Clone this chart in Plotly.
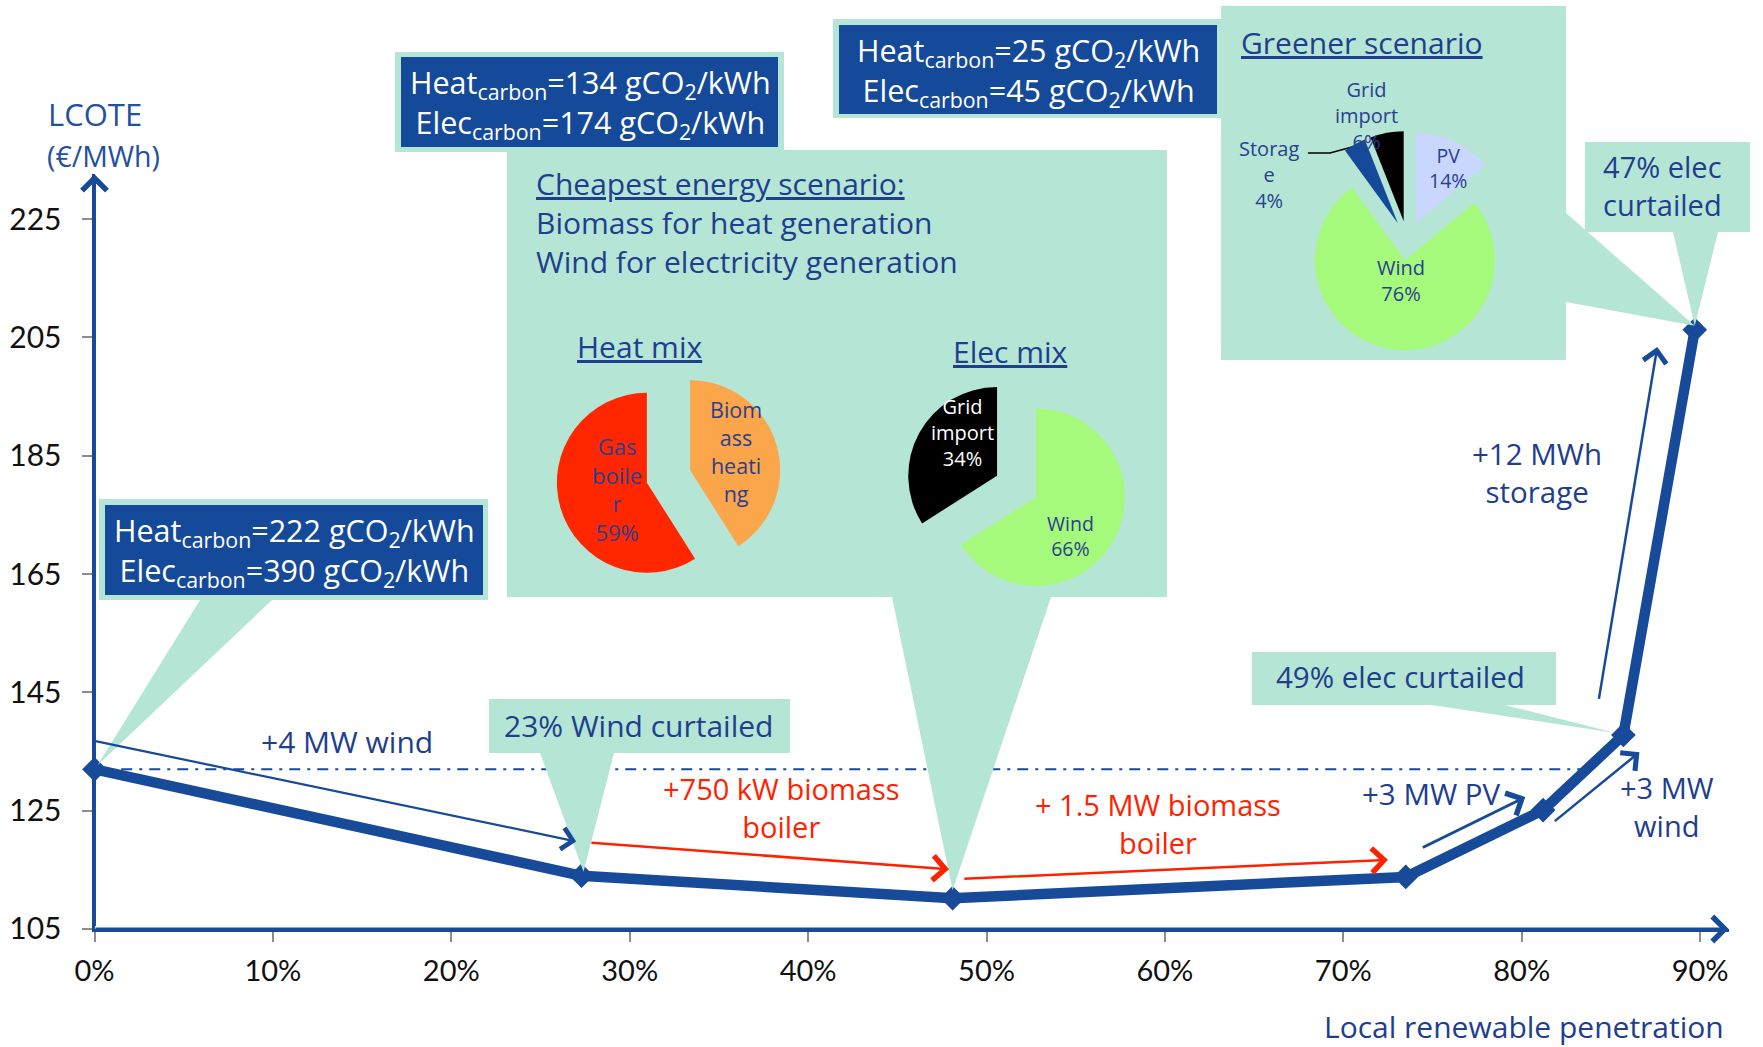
import plotly.graph_objects as go

# ---------------- data ----------------
penetration = [0.0, 27.3, 48.1, 73.5, 81.2, 85.7, 89.7]          # % local renewable
lcote = [132.0, 114.0, 110.2, 113.8, 125.1, 137.8, 206.3]         # EUR/MWh
x_ticks = [0, 10, 20, 30, 40, 50, 60, 70, 80, 90]
x_tick_text = [f"{v}%" for v in x_ticks]
y_ticks = [105, 125, 145, 165, 185, 205, 225]
reference_x = [1.5, 83.5]
reference_y = [132.0, 132.0]

# step arrows: tail x, tail y, head x, head y (data units)
arrow_wind4 = [0.0, 136.8, 27.0, 119.8]
arrow_bio750 = [27.8, 119.6, 47.9, 115.1]
arrow_bio15 = [48.7, 113.5, 72.5, 116.7]
arrow_pv3 = [74.4, 118.7, 80.2, 127.3]
arrow_wind3 = [81.8, 123.1, 86.6, 134.9]
arrow_storage = [84.3, 143.4, 87.6, 203.4]

heat_labels = ["Biomass heating", "Gas boiler"]
heat_values = [41, 59]
elec_labels = ["Wind", "Grid import"]
elec_values = [66, 34]
green_labels = ["PV", "Wind", "Storage", "Grid import"]
green_values = [14, 76, 4, 6]

# ---------------- style ----------------
W, H = 1763, 1047
FONT = "Open Sans"
TICKFONT = "Lato"
MINT = "#B5E5D5"
BOX = "#154A9A"
LINE = "#174A98"
TXT = "#213E8E"
RED = "#FF2200"

X_RANGE = [0, 91.6]
Y_RANGE = [105, 232.6]
X0, SX = 94.5, 17.84    # pixel of 0 %, px per %
Y0, SY = 929.0, 5.915   # pixel of 105, px per unit


def px(v):
    return X0 + v * SX


def py(v):
    return Y0 - (v - 105) * SY


fig = go.Figure()

# reference dash-dot line and main curve on the real axes
fig.add_trace(go.Scatter(x=reference_x, y=reference_y, mode="lines",
                         line=dict(color=LINE, width=2, dash="11px,7px,3px,7px"),
                         hoverinfo="skip", showlegend=False))
fig.add_trace(go.Scatter(x=penetration, y=lcote, mode="lines+markers",
                         line=dict(color=LINE, width=10.5),
                         marker=dict(symbol="diamond", size=19, color=LINE),
                         cliponaxis=False, showlegend=False))


# ---------------- callout panels (pixel overlay axes) ----------------
def panel(x0, y0, x1, y1, tail=None, side="bottom", color=MINT):
    xs, ys = [x0, x1], [y0, y0]
    if side == "right" and tail:
        (a, tip, b) = tail
        xs += [x1, tip[0], x1]
        ys += [a, tip[1], b]
    xs += [x1]
    ys += [y1]
    if side == "bottom" and tail:
        (a, tip, b) = tail
        xs += [b, tip[0], a]
        ys += [y1, tip[1], y1]
    xs += [x0, x0]
    ys += [y1, y0]
    fig.add_trace(go.Scatter(x=xs, y=ys, xaxis="x2", yaxis="y2", mode="lines",
                             fill="toself", fillcolor=color, line=dict(width=0),
                             hoverinfo="skip", showlegend=False))


p1 = (px(penetration[0]) + 3, py(lcote[0]) - 4)
p2 = (px(penetration[1]) + 2, py(lcote[1]) - 4)
p3 = (px(penetration[2]), py(lcote[2]) - 8)
p6 = (px(penetration[5]) - 8, py(lcote[5]) - 2)
p7 = (px(penetration[6]), py(lcote[6]) - 4)

panel(99, 499, 488, 600, tail=(200, p1, 272))
panel(105, 505, 483, 595, color=BOX)
panel(395, 52, 784, 152)
panel(401, 57, 778, 147, color=BOX)
panel(833, 19, 1221, 118)
panel(839, 25, 1217, 114, color=BOX)
panel(507, 150, 1167, 597, tail=(892, p3, 1051))
panel(1221, 6, 1566, 360, tail=(213, p7, 302), side="right")
panel(1585, 142, 1750, 232, tail=(1673, p7, 1718))
panel(489, 699, 790, 753, tail=(540, p2, 614))
panel(1252, 652, 1556, 705, tail=(1432, p6, 1505))

# storage leader line
fig.add_trace(go.Scatter(x=[1308, 1330, 1352], y=[153, 153, 147], xaxis="x2", yaxis="y2",
                         mode="lines", line=dict(color="black", width=1.5),
                         hoverinfo="skip", showlegend=False))


# ---------------- pies ----------------
def dom(cx, cy, half):
    return dict(x=[(cx - half) / W, (cx + half) / W],
                y=[1 - (cy + half) / H, 1 - (cy - half) / H])


fig.add_trace(go.Pie(labels=heat_labels, values=heat_values, sort=False,
                     direction="clockwise", rotation=0, pull=[0.25, 0.25],
                     marker=dict(colors=["#FBA64B", "#FF2600"], line=dict(width=0)),
                     textinfo="none", hoverinfo="skip", showlegend=False,
                     domain=dom(668.5, 476.5, 112.5)))
fig.add_trace(go.Pie(labels=elec_labels, values=elec_values, sort=False,
                     direction="clockwise", rotation=0, pull=[0.25, 0.25],
                     marker=dict(colors=["#A5F97B", "#000000"], line=dict(width=0)),
                     textinfo="none", hoverinfo="skip", showlegend=False,
                     domain=dom(1016.5, 486.5, 111)))
fig.add_trace(go.Pie(labels=green_labels, values=green_values, sort=False,
                     direction="clockwise", rotation=0, pull=[0.22] * 4,
                     marker=dict(colors=["#C9D6FE", "#A5F97B", BOX, "#000000"],
                                 line=dict(width=0)),
                     textinfo="none", hoverinfo="skip", showlegend=False,
                     domain=dom(1407.4, 240.6, 109.8)))

# ---------------- annotations ----------------
ann = []


def text(x, y, s, size=29.5, color=TXT, xanchor="center"):
    ann.append(dict(x=x, y=y, xref="x2", yref="y2", text=s, showarrow=False,
                    xanchor=xanchor, yanchor="middle",
                    align="left" if xanchor == "left" else "center",
                    font=dict(family=FONT, size=size, color=color)))


def arrow(a, color=LINE, width=2.5, size=1.8):
    ann.append(dict(x=a[2], y=a[3], ax=a[0], ay=a[1], xref="x", yref="y",
                    axref="x", ayref="y", text="\u00a0", showarrow=True, arrowhead=4,
                    arrowsize=size, arrowwidth=width, arrowcolor=color,
                    font=dict(size=4), borderpad=0))


# axis arrows
arrow([0, 105, 0, Y_RANGE[1]], color=LINE, width=3, size=1.6)
arrow([0, 105, X_RANGE[1], 105], color=LINE, width=3, size=1.6)

arrow(arrow_wind4, width=2.2, size=1.9)
arrow(arrow_bio750, color=RED, width=2.5, size=1.9)
arrow(arrow_bio15, color=RED, width=2.5, size=1.9)
arrow(arrow_pv3, width=3, size=1.6)
arrow(arrow_wind3, width=2.5, size=1.8)
arrow(arrow_storage, width=2.5, size=1.8)

text(95, 114, "LCOTE", size=31, color="#2450A0")
text(103, 156, "(€/MWh)", size=28.5, color="#2450A0")

cw = "white"
text(294, 551, "Heat<sub>carbon</sub>=222 gCO<sub>2</sub>/kWh<br>Elec<sub>carbon</sub>=390 gCO<sub>2</sub>/kWh",
     size=30.5, color=cw)
text(590, 103, "Heat<sub>carbon</sub>=134 gCO<sub>2</sub>/kWh<br>Elec<sub>carbon</sub>=174 gCO<sub>2</sub>/kWh",
     size=30.5, color=cw)
text(1028, 71, "Heat<sub>carbon</sub>=25 gCO<sub>2</sub>/kWh<br>Elec<sub>carbon</sub>=45 gCO<sub>2</sub>/kWh",
     size=30.5, color=cw)

text(534, 222, "<u>Cheapest energy scenario:</u><br>Biomass for heat generation<br>Wind for electricity generation",
     size=30, xanchor="left")
text(639, 346, "<u>Heat mix</u>", size=30)
text(1010, 351, "<u>Elec mix</u>", size=30)
text(1239, 42, "<u>Greener scenario</u>", size=30, xanchor="left")

text(638, 725, "23% Wind curtailed", size=30)
text(1400, 676, "49% elec curtailed")
text(1662, 185, "47% elec<br>curtailed", size=29)

text(347, 741, "+4 MW wind", size=30)
text(781, 807, "+750 kW biomass<br>boiler", color=RED, size=29)
text(1158, 823, "+ 1.5 MW biomass<br>boiler", color=RED, size=29)
text(1431, 793, "+3 MW PV", size=29.5)
text(1667, 806, "+3 MW<br>wind", size=29)
text(1537, 472, "+12 MWh<br>storage", size=29.5)

ann.append(dict(x=1726, y=1026, xref="x2", yref="y2", text="Local renewable penetration",
                showarrow=False, xanchor="right", yanchor="middle",
                font=dict(family=FONT, size=30, color=TXT)))

# pie labels
PL = "#2B3F8F"
text(617, 489, "Gas<br>boile<br>r<br>59%", size=22, color=PL)
text(736, 451, "Biom<br>ass<br>heati<br>ng", size=21.5, color=PL)
text(962, 432, "Grid<br>import<br>34%", size=20, color="white")
text(1070, 536, "Wind<br>66%", size=19.5, color=PL)
text(1366, 115, "Grid<br>import<br>6%", size=20, color=PL)
text(1269, 174, "Storag<br>e<br>4%", size=20, color=PL)
text(1448, 168, "PV<br>14%", size=19.5, color=PL)
text(1401, 280, "Wind<br>76%", size=20, color=PL)

fig.update_layout(
    width=W, height=H, autosize=False,
    margin=dict(l=0, r=0, t=0, b=0),
    paper_bgcolor="white", plot_bgcolor="rgba(0,0,0,0)",
    font=dict(family=FONT),
    annotations=ann,
    xaxis=dict(domain=[px(X_RANGE[0]) / W, px(X_RANGE[1]) / W], range=X_RANGE,
               tickvals=x_ticks, ticktext=x_tick_text, showgrid=False, zeroline=False,
               showline=True, linecolor=LINE, linewidth=3,
               ticks="outside", ticklen=10, tickwidth=1.5, tickcolor="#8C8C8C",
               tickfont=dict(family=TICKFONT, size=29, color="#111111"),
               ticklabelstandoff=4, automargin=False, fixedrange=True, anchor="y"),
    yaxis=dict(domain=[1 - py(Y_RANGE[0]) / H, 1 - py(Y_RANGE[1]) / H], range=Y_RANGE,
               tickvals=y_ticks, showgrid=False, zeroline=False,
               showline=True, linecolor=LINE, linewidth=3,
               ticks="outside", ticklen=10, tickwidth=1.5, tickcolor="#8C8C8C",
               tickfont=dict(family=TICKFONT, size=30, color="#111111"),
               ticklabelstandoff=14, automargin=False, fixedrange=True, anchor="x"),
    xaxis2=dict(domain=[0, 1], range=[0, W], visible=False, fixedrange=True, anchor="y2"),
    yaxis2=dict(domain=[0, 1], range=[H, 0], visible=False, fixedrange=True, anchor="x2"),
)

fig.write_html("out.html")
